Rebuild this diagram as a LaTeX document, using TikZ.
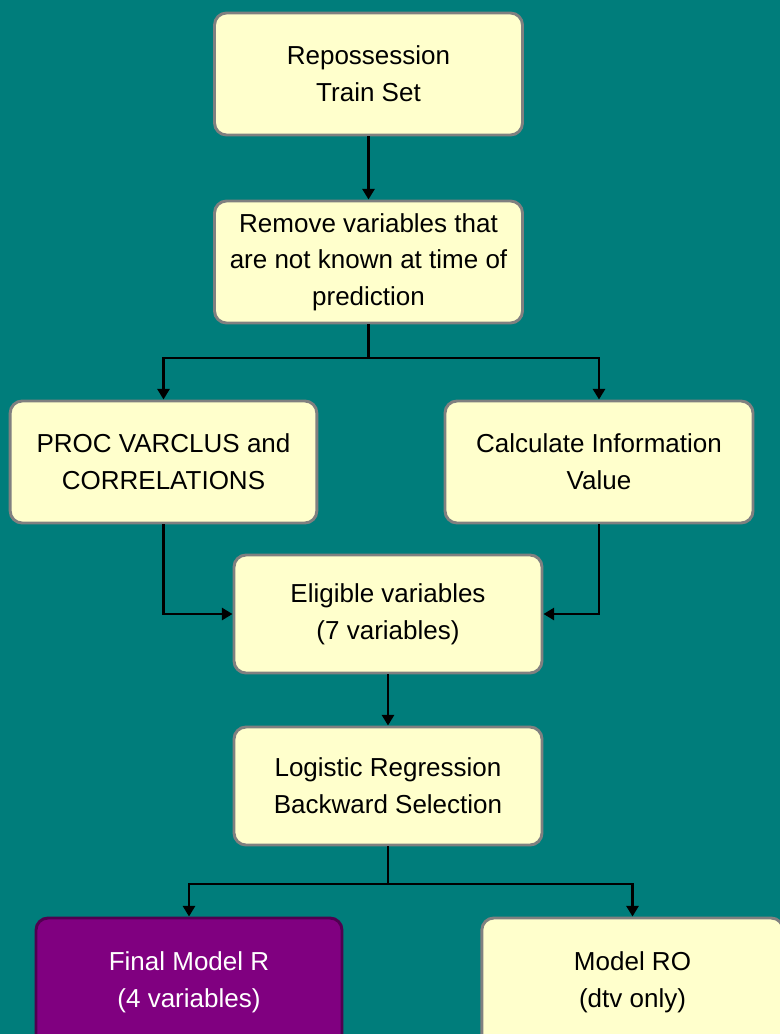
\documentclass[tikz,border=0pt]{standalone}
\usepackage{fontspec}
\setmainfont{Liberation Sans}
\usetikzlibrary{arrows.meta,positioning}
\definecolor{slidebg}{RGB}{0,125,123}
\definecolor{boxfill}{RGB}{255,255,204}
\definecolor{boxedge}{RGB}{128,128,128}
\definecolor{finalfill}{RGB}{128,0,128}
\definecolor{finaledge}{RGB}{80,0,80}
\tikzset{
box/.style={draw=boxedge, fill=boxfill, line width=2.2pt, rounded corners=9pt, % rounded yellow step box
  minimum width=231pt, minimum height=91.5pt, inner sep=0pt, align=center,
  font=\fontsize{19.5}{27.5}\selectfont},
finalbox/.style={box, fill=finalfill, draw=finaledge, text=white},
link/.style={line width=2pt, -{Triangle[width=9pt,length=8pt]}},
}

\begin{document}
\begin{tikzpicture}[x=0.75pt,y=0.75pt,yscale=-1,xscale=1]
\useasboundingbox (0,0) rectangle (780,1034);
\clip (0,0) rectangle (780,1034);
\fill[slidebg] (0,0) rectangle (780,1034);
%Rounded Rect
\node[box] (trainset) at (368.5,74) {Repossession\\Train Set};
\node[box] (remove) at (368.5,262) {Remove variables that\\are not known at time of\\prediction};
\node[box, minimum width=230pt] (varclus) at (163.5,462) {PROC VARCLUS and\\CORRELATIONS};
\node[box] (infoval) at (599,462) {Calculate Information\\Value};
\node[box, minimum height=88.5pt] (eligible) at (388,614) {Eligible variables\\(7 variables)};
\node[box, minimum height=88.5pt] (logistic) at (388,786) {Logistic Regression\\Backward Selection};
\node[finalbox, minimum width=229.5pt, minimum height=96pt] (finalR) at (189,982) {Final Model R\\(4 variables)};
\node[box, minimum width=226pt, minimum height=96pt] (modelRO) at (632.5,982) {Model RO\\(dtv only)};
%Split points
\coordinate (split1) at (368.5,358);
\coordinate (split2) at (388,884);
%Straight Lines
\draw[link] (trainset) -- (remove);
\draw[line width=2pt] (remove) -- (split1);
\draw[link] (split1) -| (varclus);
\draw[link] (split1) -| (infoval);
\draw[link] (varclus) |- (eligible);
\draw[link] (infoval) |- (eligible);
\draw[link] (eligible) -- (logistic);
\draw[line width=2pt] (logistic) -- (split2);
\draw[link] (split2) -| (finalR);
\draw[link] (split2) -| (modelRO);
\end{tikzpicture}
\end{document}
